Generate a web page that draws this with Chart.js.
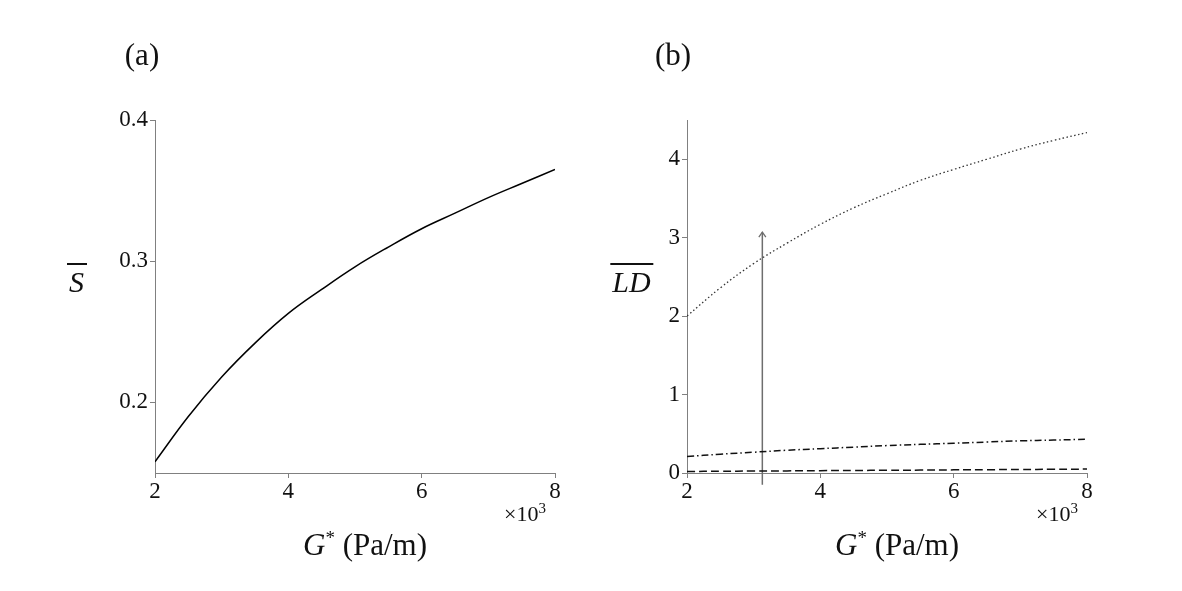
<!DOCTYPE html>
<html>
<head>
<meta charset="utf-8">
<script src="https://cdn.jsdelivr.net/npm/chart.js@4"></script>
<style>
  body { margin: 0; background: #fff; }
  #wrap { position: relative; width: 1182px; height: 591px; font-family: "Liberation Serif", "DejaVu Serif", serif; color: #111; }
  #wrap canvas { position: absolute; top: 0; }
  .lbl { position: absolute; transform: translate(-50%, -50%); white-space: nowrap; }
  .panel { font-size: 31px; }
  .ytitle { font-size: 30px; font-style: italic; }
  .ytitle span { display: inline-block; border-top: 2px solid #111; padding: 2px 3px 0 2px; line-height: 1; }
  .xtitle { font-size: 31px; }
  .mult { position: absolute; font-size: 22px; white-space: nowrap; }
</style>
</head>
<body>
<div id="wrap">
  <canvas id="chartA" width="600" height="591" style="left:0;width:600px;height:591px"></canvas>
  <canvas id="chartB" width="622" height="591" style="left:560px;width:622px;height:591px"></canvas>

  <div class="lbl panel" style="left:142px;top:55px">(a)</div>
  <div class="lbl panel" style="left:673px;top:55px">(b)</div>

  <div class="lbl ytitle" style="left:77px;top:281px"><span>S</span></div>
  <div class="lbl ytitle" style="left:632px;top:281px"><span>LD</span></div>

  <div class="lbl xtitle" style="left:365px;top:545px"><i>G</i><sup style="font-size:19px">*</sup> (Pa/m)</div>
  <div class="lbl xtitle" style="left:897px;top:545px"><i>G</i><sup style="font-size:19px">*</sup> (Pa/m)</div>

  <div class="mult" style="left:504px;top:500px">×10<sup style="font-size:15px">3</sup></div>
  <div class="mult" style="left:1036px;top:500px">×10<sup style="font-size:15px">3</sup></div>
</div>

<script>
// G* values (x10^3 Pa/m)
const gValues = [2, 2.5, 3, 3.5, 4, 4.5, 5, 5.5, 6, 6.5, 7, 7.5, 8];

// panel (a): mean S
const sBar = [0.158, 0.190, 0.218, 0.242, 0.263, 0.280, 0.296, 0.310, 0.323, 0.334, 0.345, 0.355, 0.365];

// panel (b): mean LD, three cases
const ldDotted = [2.0, 2.36, 2.67, 2.93, 3.17, 3.38, 3.56, 3.73, 3.87, 4.00, 4.13, 4.24, 4.34];
const ldDashDot = [0.21, 0.24, 0.265, 0.29, 0.31, 0.33, 0.35, 0.365, 0.38, 0.395, 0.41, 0.42, 0.43];
const ldDashed = [0.02, 0.022, 0.025, 0.027, 0.03, 0.032, 0.035, 0.037, 0.04, 0.042, 0.045, 0.047, 0.05];

// arrow (increasing direction) in panel (b)
const arrowX = [3.13, 3.13];
const arrowY = [-0.15, 3.07];

const xTicks = [2, 4, 6, 8];
const yTicksA = [0.2, 0.3, 0.4];
const yTicksB = [0, 1, 2, 3, 4];

const axisGrey = '#808080';
const tickFont = { family: '"Liberation Serif", "DejaVu Serif", serif', size: 23 };

function pts(xs, ys) {
    return xs.map((x, i) => ({ x: x, y: ys[i] }));
}

function lineSet(data, dash, width, color) {
    return {
        data: data,
        borderColor: color || '#111',
        borderWidth: width || 1.4,
        borderDash: dash || [],
        pointRadius: 0,
        showLine: true,
        fill: false,
        tension: 0.4
    };
}

function axes(yMin, yMax, yTicks, yWidth) {
    return {
        x: {
            type: 'linear', min: 2, max: 8,
            afterBuildTicks: s => { s.ticks = xTicks.map(v => ({ value: v })); },
            afterFit: s => { s.height = 40; },
            grid: { drawOnChartArea: false, tickLength: 5, color: axisGrey },
            border: { color: axisGrey, width: 1 },
            ticks: { font: tickFont, color: '#111', padding: 0, maxRotation: 0 }
        },
        y: {
            type: 'linear', min: yMin, max: yMax,
            afterBuildTicks: s => { s.ticks = yTicks.map(v => ({ value: v })); },
            afterFit: s => { s.width = yWidth; },
            grid: { drawOnChartArea: false, tickLength: 5, color: axisGrey },
            border: { color: axisGrey, width: 1 },
            ticks: { font: tickFont, color: '#111', padding: 2 }
        }
    };
}

// draws the arrow head at the end of the dataset marked as arrow
const arrowHead = {
    id: 'arrowHead',
    afterDatasetsDraw(chart) {
        chart.data.datasets.forEach((ds, i) => {
            if (!ds.isArrow) return;
            const pts = chart.getDatasetMeta(i).data;
            const tip = pts[pts.length - 1];
            const ctx = chart.ctx;
            ctx.save();
            ctx.strokeStyle = ds.borderColor;
            ctx.lineWidth = 1.3;
            ctx.beginPath();
            ctx.moveTo(tip.x - 3.5, tip.y + 5);
            ctx.lineTo(tip.x, tip.y);
            ctx.lineTo(tip.x + 3.5, tip.y + 5);
            ctx.stroke();
            ctx.restore();
        });
    }
};

const common = {
    responsive: false,
    animation: false,
    plugins: { legend: { display: false }, tooltip: { enabled: false } }
};

new Chart(document.getElementById('chartA').getContext('2d'), {
    type: 'scatter',
    data: { datasets: [lineSet(pts(gValues, sBar), [], 1.5, '#000')] },
    options: Object.assign({}, common, {
        layout: { padding: { left: 95, right: 45, top: 120, bottom: 78 } },
        scales: axes(0.15, 0.4, yTicksA, 60)
    })
});

const arrowSet = lineSet(pts(arrowX, arrowY), [], 1.5, '#6e6e6e');
arrowSet.isArrow = true;
arrowSet.tension = 0;
arrowSet.clip = false;

new Chart(document.getElementById('chartB').getContext('2d'), {
    type: 'scatter',
    data: {
        datasets: [
            lineSet(pts(gValues, ldDotted), [1.5, 2.5], 1.3, '#333'),
            lineSet(pts(gValues, ldDashDot), [7, 3, 1.5, 3], 1.5, '#111'),
            lineSet(pts(gValues, ldDashed), [8, 4], 1.5, '#111'),
            arrowSet
        ]
    },
    options: Object.assign({}, common, {
        layout: { padding: { left: 87, right: 95, top: 120, bottom: 78 } },
        scales: axes(0, 4.5, yTicksB, 40)
    }),
    plugins: [arrowHead]
});
</script>
</body>
</html>
